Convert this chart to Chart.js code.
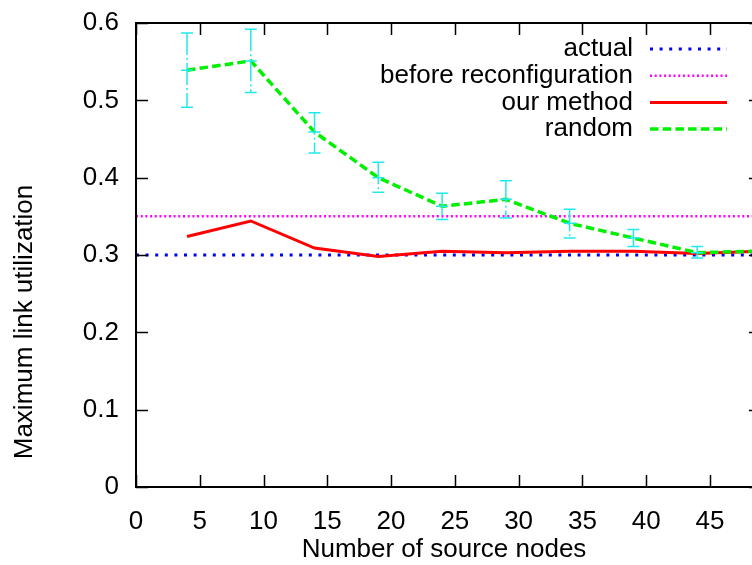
<!DOCTYPE html>
<html>
<head>
<meta charset="utf-8">
<script src="https://cdn.jsdelivr.net/npm/chart.js@4.4.0/dist/chart.umd.min.js"></script>
<style>
  html, body { margin: 0; padding: 0; background: #fff; }
</style>
</head>
<body>
<canvas id="chart" width="752" height="565"></canvas>
<script>
// Values
const xNodes = [4, 9, 14, 19, 24, 29, 34, 39, 44, 49];
const ourMethod = [0.324, 0.344, 0.309, 0.298, 0.305, 0.303, 0.305, 0.305, 0.302, 0.305];
const randomMean = [0.539, 0.551, 0.459, 0.400, 0.363, 0.372, 0.341, 0.322, 0.303, 0.305];
const randomLow = [0.491, 0.510, 0.432, 0.381, 0.346, 0.348, 0.322, 0.311, 0.296, 0.300];
const randomHigh = [0.587, 0.592, 0.484, 0.420, 0.380, 0.396, 0.359, 0.333, 0.311, 0.310];
const actualX = [0, 49];
const actualY = [0.3, 0.3];
const beforeX = [0, 49];
const beforeY = [0.35, 0.35];
const xTicks = [0, 5, 10, 15, 20, 25, 30, 35, 40, 45];
const yTicks = [0, 0.1, 0.2, 0.3, 0.4, 0.5, 0.6];
const seriesNames = ['actual', 'before reconfiguration', 'our method', 'random'];
const yTitle = 'Maximum link utilization';

const FONT = { family: "'Liberation Sans', Arial, sans-serif", size: 26 };
const toPoints = (xs, ys) => xs.map((x, i) => ({ x: x, y: ys[i] }));

// error bars for the random series, drawn through the scales
const errorBars = {
  id: 'errorBars',
  afterDatasetsDraw(chart) {
    const { ctx, chartArea, scales: { x, y } } = chart;
    ctx.save();
    ctx.beginPath();
    ctx.rect(chartArea.left, chartArea.top, chartArea.right - chartArea.left, chartArea.bottom - chartArea.top);
    ctx.clip();
    ctx.strokeStyle = '#22eaea';
    ctx.lineWidth = 1.5;
    xNodes.forEach((xv, i) => {
      const px = x.getPixelForValue(xv);
      const yh = y.getPixelForValue(randomHigh[i]);
      const yl = y.getPixelForValue(randomLow[i]);
      const ym = y.getPixelForValue(randomMean[i]);
      ctx.setLineDash([22, 3, 2, 3]);
      ctx.beginPath();
      ctx.moveTo(px, yh);
      ctx.lineTo(px, yl);
      ctx.stroke();
      ctx.setLineDash([]);
      ctx.beginPath();
      [yh, yl, ym].forEach(yy => {
        ctx.moveTo(px - 6, yy);
        ctx.lineTo(px + 6, yy);
      });
      ctx.stroke();
    });
    ctx.restore();
  }
};

// gnuplot style border with inward ticks, the y label and the key
const frame = {
  id: 'frame',
  afterDraw(chart) {
    const { ctx, chartArea, scales: { x, y } } = chart;
    const L = chartArea.left, T = chartArea.top, B = chartArea.bottom;
    const R = x.getPixelForValue(49);
    ctx.save();
    ctx.strokeStyle = '#000';
    ctx.lineWidth = 2;
    ctx.beginPath();
    ctx.moveTo(R, T); ctx.lineTo(L, T); ctx.lineTo(L, B); ctx.lineTo(R, B);
    ctx.stroke();
    ctx.lineWidth = 1.5;
    ctx.beginPath();
    xTicks.forEach(v => {
      const px = Math.round(x.getPixelForValue(v)) + 0.5;
      ctx.moveTo(px, B); ctx.lineTo(px, B - 12);
      ctx.moveTo(px, T); ctx.lineTo(px, T + 12);
    });
    yTicks.forEach(v => {
      const py = Math.round(y.getPixelForValue(v)) + 0.5;
      ctx.moveTo(L, py); ctx.lineTo(L + 12, py);
      ctx.moveTo(R, py); ctx.lineTo(R - 12, py);
    });
    ctx.stroke();

    ctx.font = FONT.size + 'px ' + FONT.family;
    ctx.fillStyle = '#000';
    ctx.textBaseline = 'middle';

    // y axis label, placed as gnuplot put it (a bit below the middle)
    ctx.save();
    ctx.translate(25, 322);
    ctx.rotate(-Math.PI / 2);
    ctx.textAlign = 'center';
    ctx.fillText(yTitle, 0, 0);
    ctx.restore();

    // key
    ctx.textAlign = 'right';
    const ds = chart.data.datasets;
    seriesNames.forEach((name, i) => {
      const rowY = 49 + i * 26.7;
      ctx.fillText(name, 633, rowY);
      const d = ds.find(s => s.label === name);
      ctx.strokeStyle = d.borderColor;
      ctx.lineWidth = d.borderWidth;
      ctx.setLineDash(d.borderDash || []);
      ctx.beginPath();
      ctx.moveTo(650, rowY);
      ctx.lineTo(727, rowY);
      ctx.stroke();
    });
    ctx.restore();
  }
};

new Chart(document.getElementById('chart'), {
  type: 'line',
  data: {
    datasets: [
      {
        label: 'actual',
        data: toPoints(actualX, actualY),
        borderColor: '#0000ff',
        borderWidth: 3,
        borderDash: [3, 6.6],
        order: 4
      },
      {
        label: 'before reconfiguration',
        data: toPoints(beforeX, beforeY),
        borderColor: '#ff00ff',
        borderWidth: 2.5,
        borderDash: [2, 2.7],
        order: 3
      },
      {
        label: 'our method',
        data: toPoints(xNodes, ourMethod),
        borderColor: '#ff0000',
        borderWidth: 3,
        order: 2
      },
      {
        label: 'random',
        data: toPoints(xNodes, randomMean),
        borderColor: '#00f000',
        borderWidth: 3.5,
        borderDash: [8.5, 4.2],
        order: 1
      }
    ]
  },
  options: {
    responsive: false,
    animation: false,
    parsing: false,
    layout: { padding: { top: 23, left: 0, right: 0, bottom: 0 } },
    elements: {
      point: { radius: 0 },
      line: { tension: 0, fill: false }
    },
    plugins: {
      legend: { display: false },
      tooltip: { enabled: false }
    },
    scales: {
      x: {
        type: 'linear',
        min: 0,
        max: 48.3,
        afterBuildTicks: s => { s.ticks = xTicks.map(v => ({ value: v })); },
        afterFit: s => { s.height = 78; s.paddingLeft = 0; s.paddingRight = 0; },
        grid: { display: false, drawTicks: false },
        border: { display: false },
        ticks: { font: FONT, color: '#000', padding: 19, maxRotation: 0 },
        title: { display: true, text: 'Number of source nodes', font: FONT, color: '#000', padding: { top: 0, bottom: 0 } }
      },
      y: {
        type: 'linear',
        min: 0,
        max: 0.6,
        afterBuildTicks: s => { s.ticks = yTicks.map(v => ({ value: v })); },
        afterFit: s => { s.width = 136; s.paddingTop = 0; s.paddingBottom = 0; },
        grid: { display: false, drawTicks: false },
        border: { display: false },
        ticks: {
          font: FONT,
          color: '#000',
          padding: 17,
          callback: v => (v === 0 ? '0' : v.toFixed(1))
        }
      }
    }
  },
  plugins: [errorBars, frame]
});
</script>
</body>
</html>
